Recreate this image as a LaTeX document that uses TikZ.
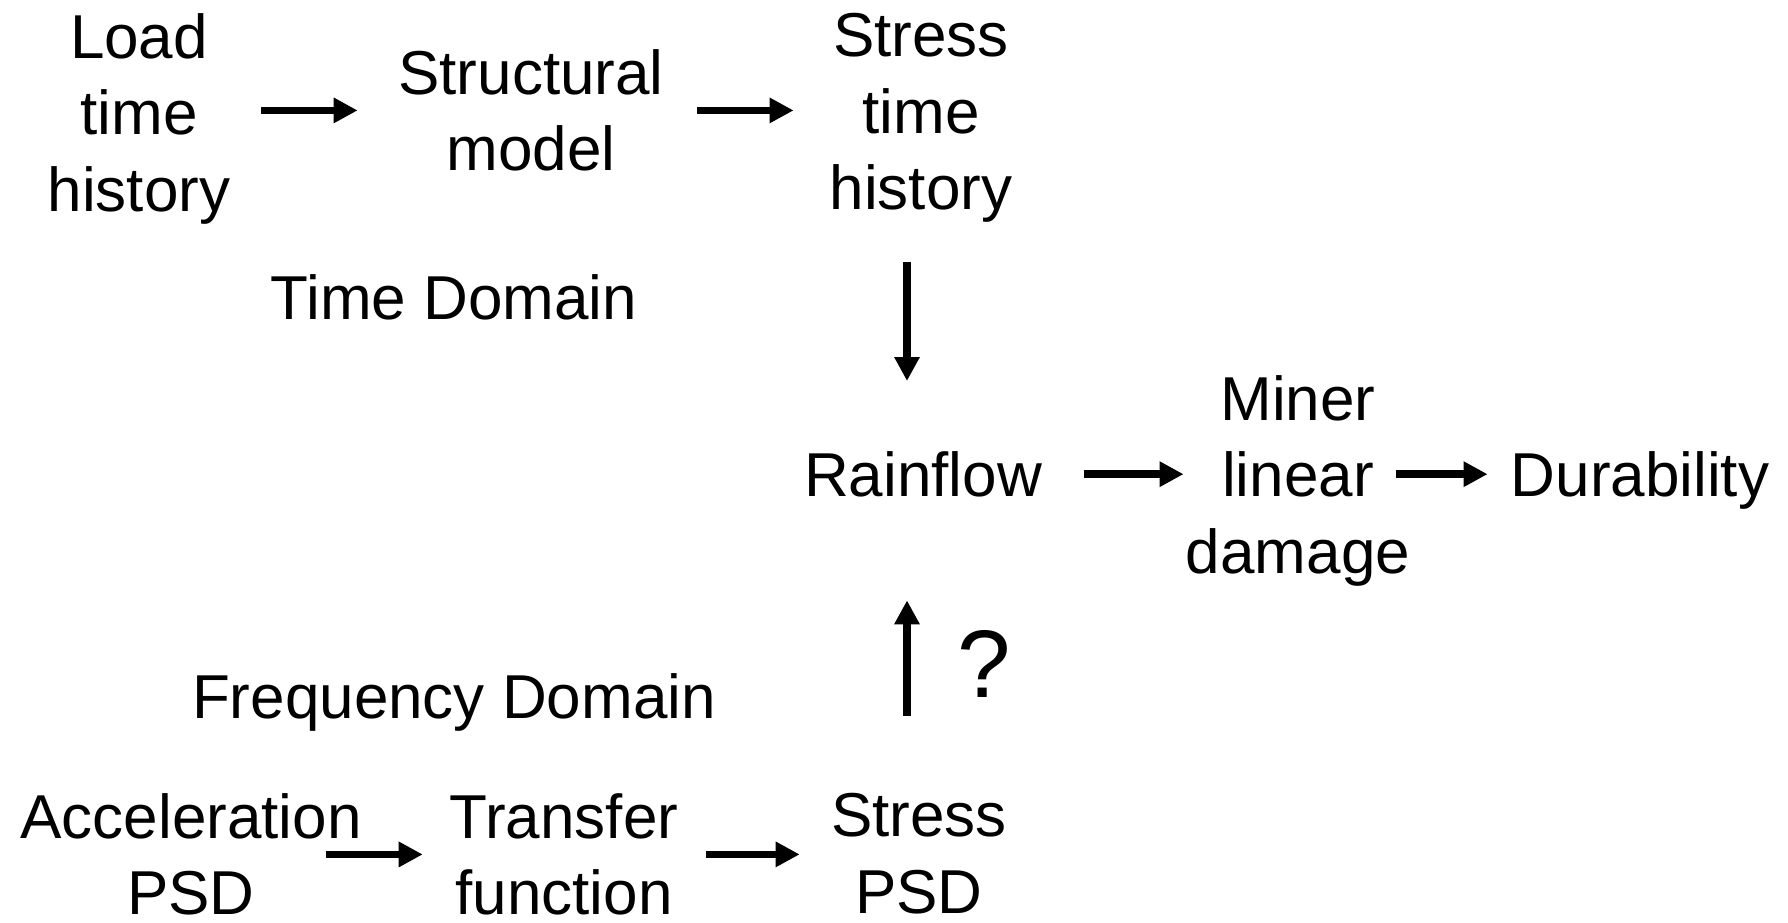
\documentclass[tikz,border=0pt]{standalone}
\usepackage{fontspec}
\setmainfont{Liberation Sans}
\usetikzlibrary{arrows.meta}

\begin{document}
\begin{tikzpicture}[x=0.5pt,y=-0.5pt,
  lbl/.style={align=center,inner sep=0pt,anchor=north,font=\fontsize{31}{38.25}\selectfont},
  flow/.style={-{Triangle[length=12pt,width=12pt]},line width=3.8pt}]
\useasboundingbox (0,0) rectangle (1788,922);

\node[lbl] (load) at (139,13) {Load\\time\\history};
\node[lbl] (model) at (531,49) {Structural\\model};
\node[lbl] (sth) at (921,13) {Stress\\time\\history};
\node[lbl] (timedom) at (454,274) {Time Domain};

\node[lbl] (rain) at (923,451) {Rainflow};
\node[lbl] (miner) at (1298,375) {Miner\\linear\\damage};
\node[lbl] (dura) at (1640,451) {Durability};

\node[lbl,font=\fontsize{48}{56}\selectfont] (quest) at (984,630) {?};
\node[lbl] (freqdom) at (454,673) {Frequency Domain};
\node[lbl] (accel) at (191,793) {Acceleration\\PSD};
\node[lbl] (transfer) at (564,793) {Transfer\\function};
\node[lbl] (spsd) at (919,793) {Stress\\PSD};

\draw[flow,shorten <=15.35pt,shorten >=20.15pt] (model.west -| load.east) -- (model.west);
\draw[flow,shorten <=16.65pt,shorten >=17.85pt] (model.east) -- (model.east -| sth.west);
\draw[flow,shorten <=19.5pt,shorten >=35pt] ([xshift=-7pt]sth.south) -- ([xshift=-7pt]sth.south |- rain.north);

\draw[flow,shorten <=21.05pt,shorten >=1pt] (rain.east) -- (rain.east -| miner.west);
\draw[flow,shorten <=-7pt,shorten >=11.4pt] (rain.east -| miner.east) -- (rain.east -| dura.west);

\draw[flow,shorten <=38.5pt,shorten >=51.5pt] ([xshift=-6pt]spsd.north) -- ([xshift=-6pt]spsd.north |- rain.south);
\draw[flow,shorten <=-18pt,shorten >=13.3pt] (accel.east) -- (accel.east -| transfer.west);
\draw[flow,shorten <=13.8pt,shorten >=15.55pt] (transfer.east) -- (transfer.east -| spsd.west);
\end{tikzpicture}
\end{document}
